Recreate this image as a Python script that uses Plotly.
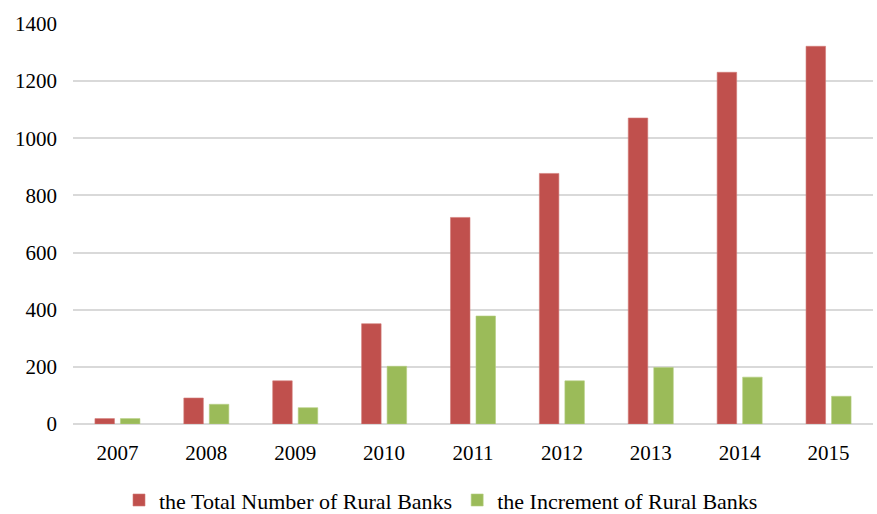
import plotly.graph_objects as go

years = ["2007", "2008", "2009", "2010", "2011", "2012", "2013", "2014", "2015"]
total_banks = [19, 91, 151, 351, 723, 877, 1071, 1231, 1322]
increment_banks = [19, 69, 57, 202, 378, 151, 198, 164, 97]
y_ticks = [0, 200, 400, 600, 800, 1000, 1200, 1400]

FAMILY = "'Times New Roman', 'Liberation Serif', 'DejaVu Serif', serif"

fig = go.Figure()
fig.add_trace(go.Bar(x=years, y=total_banks, name="the Total Number of Rural Banks",
                     marker=dict(color="#C0504D", line=dict(color="#D27A77", width=0.6))))
fig.add_trace(go.Bar(x=years, y=increment_banks, name="the Increment of Rural Banks",
                     marker=dict(color="#9BBB59", line=dict(color="#B5CF82", width=0.6))))

tick_font = dict(family=FAMILY, size=21, color="#000000")
legend_font = dict(family=FAMILY, size=22, color="#000000")
fig.update_layout(
    width=877, height=514,
    margin=dict(l=73, r=4, t=24, b=90, autoexpand=False),
    paper_bgcolor="white", plot_bgcolor="white",
    barmode="group", bargap=0.426, bargroupgap=0.235,
    font=tick_font,
    showlegend=True,
    legend=dict(orientation="h", x=0.0575, xanchor="left", y=-0.138, yanchor="top",
                font=legend_font, itemwidth=30, traceorder="normal"),
    xaxis=dict(showgrid=False, showline=False, ticks="", ticklabelstandoff=14,
               tickfont=tick_font),
    yaxis=dict(range=[0, 1400], tickvals=y_ticks, showgrid=True, gridcolor="#D9D9D9",
               gridwidth=1.5, zeroline=True, zerolinecolor="#D9D9D9", zerolinewidth=1.5,
               showline=False, ticks="", ticklabelstandoff=15, tickfont=tick_font),
)
fig.write_html("out.html")
